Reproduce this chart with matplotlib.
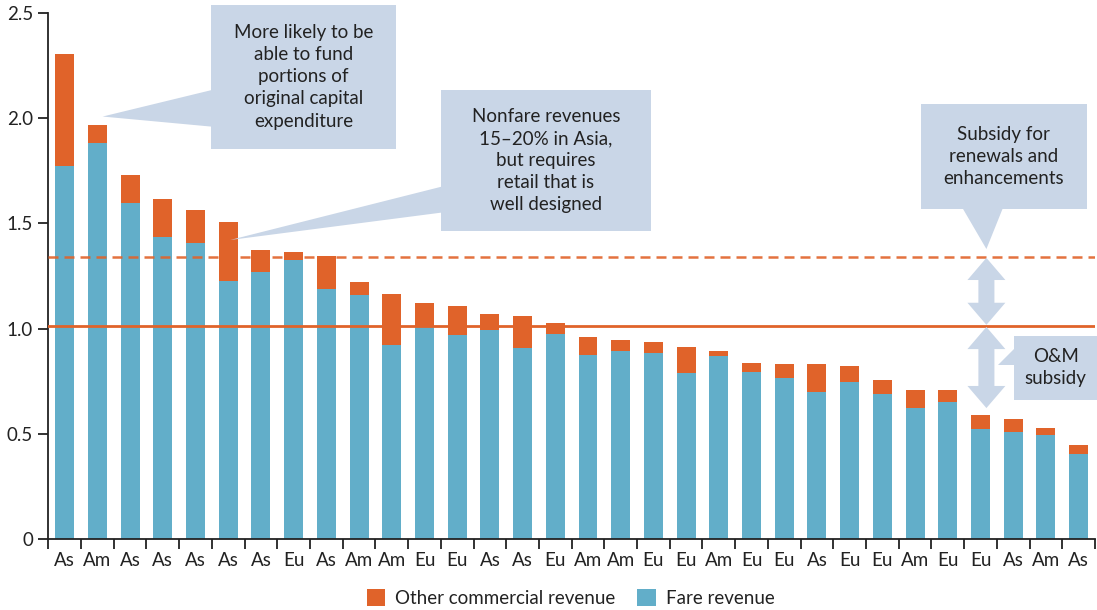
import numpy as np
import matplotlib
matplotlib.use("Agg")
import matplotlib.pyplot as plt
from matplotlib.patches import Rectangle, Polygon

plt.rcParams["font.family"] = ["Lato", "DejaVu Sans"]

# =========================
# Data
# =========================

regions = ["As", "Am", "As", "As", "As", "As", "As", "Eu", "As", "Am", "Am",
           "Eu", "Eu", "As", "As", "Eu", "Am", "Am", "Eu", "Eu", "Am", "Eu",
           "Eu", "As", "Eu", "Eu", "Am", "Eu", "Eu", "As", "Am", "As"]

fare_revenue = [1.774, 1.882, 1.597, 1.435, 1.407, 1.226, 1.271, 1.326, 1.188,
                1.160, 0.923, 1.007, 0.970, 0.994, 0.910, 0.976, 0.875, 0.894,
                0.885, 0.790, 0.870, 0.794, 0.766, 0.699, 0.747, 0.690, 0.623,
                0.652, 0.524, 0.510, 0.495, 0.405]

total_revenue = [2.304, 1.967, 1.730, 1.616, 1.564, 1.508, 1.374, 1.364, 1.345,
                 1.222, 1.165, 1.122, 1.108, 1.070, 1.060, 1.027, 0.961, 0.946,
                 0.937, 0.913, 0.894, 0.837, 0.833, 0.833, 0.824, 0.756, 0.709,
                 0.709, 0.590, 0.571, 0.529, 0.448]

om_level = 1.013        # solid line: operations & maintenance break-even
renewal_level = 1.342   # dashed line: renewals and enhancements

y_ticks = [0, 0.5, 1.0, 1.5, 2.0, 2.5]
y_tick_labels = ["0", "0.5", "1.0", "1.5", "2.0", "2.5"]

ORANGE = "#E0632A"
BLUE = "#62AEC9"
CALLOUT = "#C9D6E7"
TEXT = "#222222"


# =========================
# Helpers
# =========================

def callout(ax, box, pointer, text, fontsize=13.5):
    """
    box: (x0, x1, y0, y1) in data coords
    pointer: three (x, y) points of the speech-bubble tail
    """
    x0, x1, y0, y1 = box
    ax.add_patch(Rectangle((x0, y0), x1 - x0, y1 - y0, facecolor=CALLOUT,
                           edgecolor="none", zorder=4, clip_on=False))
    ax.add_patch(Polygon(pointer, closed=True, facecolor=CALLOUT,
                         edgecolor="none", zorder=4, clip_on=False))
    ax.text((x0 + x1) / 2, (y0 + y1) / 2, text, ha="center", va="center",
            fontsize=fontsize, color=TEXT, linespacing=1.36, zorder=5,
            clip_on=False)


def double_arrow(ax, xc, y_top, y_bot, head_w=1.16, shaft_w=0.49, head_len=0.105):
    hw, sw = head_w / 2, shaft_w / 2
    pts = [
        (xc, y_top),
        (xc + hw, y_top - head_len),
        (xc + sw, y_top - head_len),
        (xc + sw, y_bot + head_len),
        (xc + hw, y_bot + head_len),
        (xc, y_bot),
        (xc - hw, y_bot + head_len),
        (xc - sw, y_bot + head_len),
        (xc - sw, y_top - head_len),
        (xc - hw, y_top - head_len),
    ]
    ax.add_patch(Polygon(pts, closed=True, facecolor=CALLOUT,
                         edgecolor="none", zorder=4, clip_on=False))


# =========================
# Figure
# =========================

fig = plt.figure(figsize=(10.97, 6.10), dpi=100)
ax = fig.add_axes([48.3 / 1097, 70.7 / 610, (1095 - 48.3) / 1097, (539.3 - 12.7) / 610])

x = np.arange(len(regions))
fare = np.array(fare_revenue)
other = np.array(total_revenue) - fare

ax.bar(x, fare, width=0.58, color=BLUE, label="Fare revenue", zorder=2)
ax.bar(x, other, width=0.58, bottom=fare, color=ORANGE,
       label="Other commercial revenue", zorder=2)

ax.axhline(om_level, color=ORANGE, lw=2.0, zorder=3)
ax.axhline(renewal_level, color=ORANGE, lw=1.8, ls=(0, (4, 2.4)), alpha=0.9, zorder=3)

ax.set_xlim(-0.5, len(regions) - 0.5)
ax.set_ylim(0, 2.5)

ax.set_yticks(y_ticks)
ax.set_yticklabels(y_tick_labels)
ax.set_xticks(x)
ax.set_xticklabels(regions)
ax.set_xticks(np.arange(len(regions) + 1) - 0.5, minor=True)

ax.tick_params(axis="x", which="major", length=0, pad=9, labelsize=13.5, labelcolor=TEXT)
ax.tick_params(axis="x", which="minor", length=7, width=1.3, direction="out", color="#222")
ax.tick_params(axis="y", length=7, width=1.3, direction="out", pad=4,
               labelsize=13.5, labelcolor=TEXT, color="#222")

for side in ("top", "right"):
    ax.spines[side].set_visible(False)
for side in ("left", "bottom"):
    ax.spines[side].set_linewidth(1.3)
    ax.spines[side].set_color("#222")

# Annotations
callout(ax, (4.48, 10.13, 1.853, 2.537),
        [(4.50, 2.133), (4.50, 1.959), (1.16, 2.007)],
        "More likely to be\nable to fund\nportions of\noriginal capital\nexpenditure")

callout(ax, (11.50, 17.92, 1.464, 2.133),
        [(11.52, 1.674), (11.52, 1.551), (5.06, 1.421)],
        "Nonfare revenues\n15\u201320% in Asia,\nbut requires\nretail that is\nwell designed")

callout(ax, (26.18, 31.25, 1.568, 2.067),
        [(27.44, 1.575), (28.69, 1.575), (28.18, 1.378)],
        "Subsidy for\nrenewals and\nenhancements")

callout(ax, (29.03, 31.56, 0.662, 0.966),
        [(29.05, 0.909), (29.05, 0.828), (28.54, 0.828)],
        "O&M\nsubsidy")

double_arrow(ax, 28.18, 1.336, 1.018)
double_arrow(ax, 28.18, 1.008, 0.623)

handles, labels = ax.get_legend_handles_labels()
fig.legend(handles[::-1], labels[::-1], loc="lower center",
           bbox_to_anchor=(0.52, -0.022), ncol=2, frameon=False,
           fontsize=13.5, handlelength=1.0, handleheight=1.0,
           handletextpad=0.5, columnspacing=1.2, labelcolor=TEXT)

fig.savefig("out.png", dpi=100)
